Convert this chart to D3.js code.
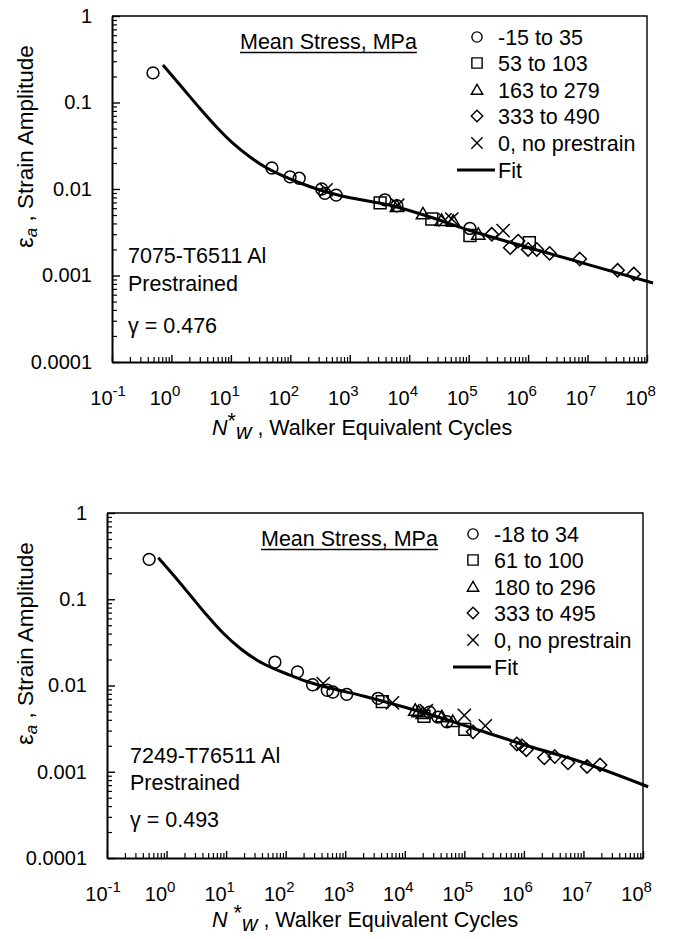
<!DOCTYPE html>
<html>
<head>
<meta charset="utf-8">
<script src="https://cdn.jsdelivr.net/npm/d3@7"></script>
<style>
  body { margin: 0; background: #fff; }
  svg text { font-family: "Liberation Sans", Arial, sans-serif; fill: #000; }
</style>
</head>
<body>
<svg id="chart" width="673" height="939"></svg>
<script>
// ---- axis ticks ----
const xMajor = [1e-1, 1e0, 1e1, 1e2, 1e3, 1e4, 1e5, 1e6, 1e7, 1e8];
const xExponents = ["-1", "0", "1", "2", "3", "4", "5", "6", "7", "8"];
const yMajor = [1e-4, 1e-3, 1e-2, 1e-1, 1];
const yLabels = ["0.0001", "0.001", "0.01", "0.1", "1"];

// ---- 7075-T6511 (top) : [N*w, strain amplitude] ----
const t_circle = [[0.49, 0.22], [49, 0.0175], [99, 0.0138], [141, 0.0133], [337, 0.0100], [380, 0.0089],
  [590, 0.0085], [3900, 0.0075], [6200, 0.0064], [1.05e5, 0.0035]];
const t_square = [[3240, 0.0069], [24000, 0.0045], [1.05e5, 0.0029], [1.05e6, 0.0024]];
const t_triangle = [[6200, 0.0061], [17000, 0.0050], [35000, 0.0042], [55000, 0.0041], [1.45e5, 0.0029]];
const t_diamond = [[2.45e5, 0.0030], [5.0e5, 0.0021], [6.8e5, 0.0025], [1.0e6, 0.0020], [1.4e6, 0.0020],
  [2.3e6, 0.0018], [7.4e6, 0.00155], [3.2e7, 0.00115], [6.0e7, 0.00104]];
const t_cross = [[400, 0.0098], [6400, 0.0065], [40000, 0.0044], [52000, 0.0045], [3.8e5, 0.0033]];
const t_fitN = [0.72, 1.565, 3.02, 5.84, 10.9, 21.0, 39.0, 75.3, 146, 281, 587, 6230, 22400, 1.054e5,
  1.077e6, 1.1e7, 1.264e8];
const t_fitE = [0.2714, 0.1452, 0.0852, 0.0514, 0.0336, 0.0234, 0.0177, 0.01414, 0.01173, 0.0100, 0.00864,
  0.00619, 0.00475, 0.00331, 0.00208, 0.00132, 0.000819];
const t_legend = ["-15 to 35", "53 to 103", "163 to 279", "333 to 490", "0, no prestrain"];

// ---- 7249-T76511 (bottom) ----
const b_circle = [[0.51, 0.29], [66, 0.0187], [158, 0.0144], [283, 0.0102], [500, 0.0088], [620, 0.0084],
  [1060, 0.0079], [3560, 0.0071], [26000, 0.0049], [36000, 0.0043], [51000, 0.0038]];
const b_square = [[4200, 0.0065], [21000, 0.0044], [1.02e5, 0.0031]];
const b_triangle = [[15000, 0.0050], [17000, 0.0048], [20000, 0.0046], [42000, 0.0042], [64000, 0.0037]];
const b_diamond = [[1.4e5, 0.0029], [7.6e5, 0.0021], [9.3e5, 0.0020], [1.1e6, 0.0018], [2.2e6, 0.00145],
  [3.3e6, 0.0015], [5.5e6, 0.00127], [1.15e7, 0.00115], [1.9e7, 0.0012]];
const b_cross = [[427, 0.0105], [6200, 0.0063], [23000, 0.0051], [1.0e5, 0.0045], [2.25e5, 0.0034]];
const b_fitN = [0.726, 1.3, 2.48, 4.72, 8.98, 17.1, 32.6, 62, 118, 225, 555, 2010, 7310, 26500, 1.83e5,
  1.265e6, 8.74e6, 1.22e8];
const b_fitE = [0.303, 0.191, 0.112, 0.0656, 0.0403, 0.027, 0.0198, 0.0158, 0.0132, 0.01113, 0.00935,
  0.00755, 0.00594, 0.00461, 0.00301, 0.00196, 0.001315, 0.00067];
const b_legend = ["-18 to 34", "61 to 100", "180 to 296", "333 to 495", "0, no prestrain"];

const symbolTypes = [d3.symbolCircle, d3.symbolSquare, d3.symbolTriangle,
  d3.symbolDiamond2 || d3.symbolDiamond, d3.symbolTimes || d3.symbolCross];
const symbolSizes = [110, 140, 76, 112, 115];

const fs = 21.5;   // label font size
const tfs = 20;    // tick label font size

const svg = d3.select("#chart");

function drawPanel({
    left, top, right, bottom,
    series, fitN, fitE, legend,
    material, gamma,
    meanX = 128,       // offset of "Mean Stress" from left edge
    noteX = 16,        // offset of material note from left edge
    noteY = [247, 275, 317],
    titleY = 73,
    spacedStar = false
  }) {

  const x = d3.scaleLog().domain([1e-1, 1e8]).range([left, right]);
  const y = d3.scaleLog().domain([1e-4, 1]).range([bottom, top]);

  const xMinor = [], yMinor = [];
  xMajor.slice(0, -1).forEach(d => { for (let k = 2; k < 10; k++) xMinor.push(d * k); });
  yMajor.slice(0, -1).forEach(d => { for (let k = 2; k < 10; k++) yMinor.push(d * k); });

  const g = svg.append("g");

  // frame top / right
  g.append("path")
    .attr("d", `M${left},${top}H${right}V${bottom}`)
    .attr("fill", "none").attr("stroke", "#000").attr("stroke-width", 1.4);

  // minor ticks
  g.append("g").attr("transform", `translate(${left},0)`)
    .call(d3.axisLeft(y).tickValues(yMinor).tickSize(-5).tickSizeOuter(0).tickFormat(""))
    .call(a => a.select(".domain").remove())
    .call(a => a.selectAll("line").attr("stroke-width", 1.2));
  g.append("g").attr("transform", `translate(0,${bottom})`)
    .call(d3.axisBottom(x).tickValues(xMinor).tickSize(-5).tickSizeOuter(0).tickFormat(""))
    .call(a => a.select(".domain").remove())
    .call(a => a.selectAll("line").attr("stroke-width", 1.2));

  // major y axis
  g.append("g").attr("transform", `translate(${left},0)`)
    .call(d3.axisLeft(y).tickValues(yMajor).tickSize(-8).tickSizeOuter(0).tickPadding(20)
      .tickFormat((d, i) => yLabels[i]))
    .call(a => a.select(".domain").attr("stroke-width", 2))
    .call(a => a.selectAll("line").attr("stroke-width", 1.4))
    .call(a => a.selectAll("text").attr("font-size", tfs).attr("font-family", null));

  // major x axis with 10^n labels
  g.append("g").attr("transform", `translate(0,${bottom})`)
    .call(d3.axisBottom(x).tickValues(xMajor).tickSize(-7).tickSizeOuter(0).tickPadding(29)
      .tickFormat(""))
    .call(a => a.select(".domain").attr("stroke-width", 2))
    .call(a => a.selectAll("line").attr("stroke-width", 1.4))
    .call(a => a.selectAll("text")
      .attr("font-size", tfs).attr("font-family", null)
      .attr("text-anchor", "start").attr("x", -tfs * 1.112)
      .each(function(d, i) {
        const t = d3.select(this);
        t.append("tspan").text("10");
        t.append("tspan").attr("dy", -9).attr("font-size", 15).text(xExponents[i]);
      }));

  // fit line
  const fitData = fitN.map((n, i) => [n, fitE[i]]);
  g.append("path")
    .datum(fitData)
    .attr("fill", "none").attr("stroke", "#000").attr("stroke-width", 3)
    .attr("d", d3.line().x(d => x(d[0])).y(d => y(d[1])).curve(d3.curveMonotoneX));

  // markers
  series.forEach((pts, si) => {
    const sym = d3.symbol().type(symbolTypes[si]).size(symbolSizes[si]);
    g.append("g").selectAll("path")
      .data(pts)
      .join("path")
        .attr("transform", d => `translate(${x(d[0])},${y(d[1])})`)
        .attr("d", sym)
        .attr("fill", "none")
        .attr("stroke", "#000")
        .attr("stroke-width", 1.5);
  });

  // "Mean Stress, MPa" heading (underlined)
  const mh = g.append("text")
    .attr("x", left + meanX).attr("y", top + 33)
    .attr("font-size", fs)
    .text("Mean Stress, MPa");
  const mw = mh.node().getComputedTextLength();
  g.append("line")
    .attr("x1", left + meanX).attr("x2", left + meanX + mw)
    .attr("y1", top + 36.5).attr("y2", top + 36.5)
    .attr("stroke", "#000").attr("stroke-width", 1.4);

  // legend
  const rowY = [21, 47, 74, 100, 127, 154];
  legend.forEach((lab, i) => {
    g.append("path")
      .attr("transform", `translate(${right - 170},${top + rowY[i] + (i === 2 ? 1 : 0)})`)
      .attr("d", d3.symbol().type(symbolTypes[i]).size(symbolSizes[i] * 0.75))
      .attr("fill", "none").attr("stroke", "#000").attr("stroke-width", 1.4);
    g.append("text")
      .attr("x", right - 149).attr("y", top + rowY[i]).attr("dy", "0.35em")
      .attr("font-size", fs).text(lab);
  });
  g.append("line")
    .attr("x1", right - 190).attr("x2", right - 152)
    .attr("y1", top + rowY[5]).attr("y2", top + rowY[5])
    .attr("stroke", "#000").attr("stroke-width", 3);
  g.append("text")
    .attr("x", right - 149).attr("y", top + rowY[5]).attr("dy", "0.35em")
    .attr("font-size", fs).text("Fit");

  // material note
  g.append("text").attr("x", left + noteX).attr("y", top + noteY[0]).attr("font-size", fs).text(material);
  g.append("text").attr("x", left + noteX).attr("y", top + noteY[1]).attr("font-size", fs).text("Prestrained");
  g.append("text").attr("x", left + noteX).attr("y", top + noteY[2]).attr("font-size", fs).text("\u03b3 = " + gamma);

  // y title
  const yt = g.append("text")
    .attr("transform", `translate(33,${top + 232}) rotate(-90)`)
    .attr("font-size", 22.5);
  yt.append("tspan").attr("font-size", 24).text("\u03b5");
  yt.append("tspan").attr("font-style", "italic").attr("font-size", 17).attr("dy", 4).text("a");
  yt.append("tspan").attr("dy", -4).text(" , Strain Amplitude");

  // x title
  const xt = g.append("text")
    .attr("x", 212).attr("y", bottom + titleY)
    .attr("font-size", fs);
  xt.append("tspan").attr("font-style", "italic").text(spacedStar ? "N " : "N");
  xt.append("tspan").attr("dy", -7).text("*");
  xt.append("tspan").attr("font-style", "italic").attr("dy", 11).text("w");
  xt.append("tspan").attr("dy", -4).text(" , Walker Equivalent Cycles");
}

drawPanel({
  left: 112, top: 16, right: 647, bottom: 362,
  series: [t_circle, t_square, t_triangle, t_diamond, t_cross],
  fitN: t_fitN, fitE: t_fitE, legend: t_legend,
  material: "7075-T6511 Al", gamma: "0.476",
  meanX: 128, noteX: 16, noteY: [247, 275, 317], titleY: 73
});

drawPanel({
  left: 107, top: 513, right: 643, bottom: 858,
  series: [b_circle, b_square, b_triangle, b_diamond, b_cross],
  fitN: b_fitN, fitE: b_fitE, legend: b_legend,
  material: "7249-T76511 Al", gamma: "0.493",
  meanX: 154, noteX: 23, noteY: [250, 277, 314], titleY: 69,
  spacedStar: true
});
</script>
</body>
</html>
